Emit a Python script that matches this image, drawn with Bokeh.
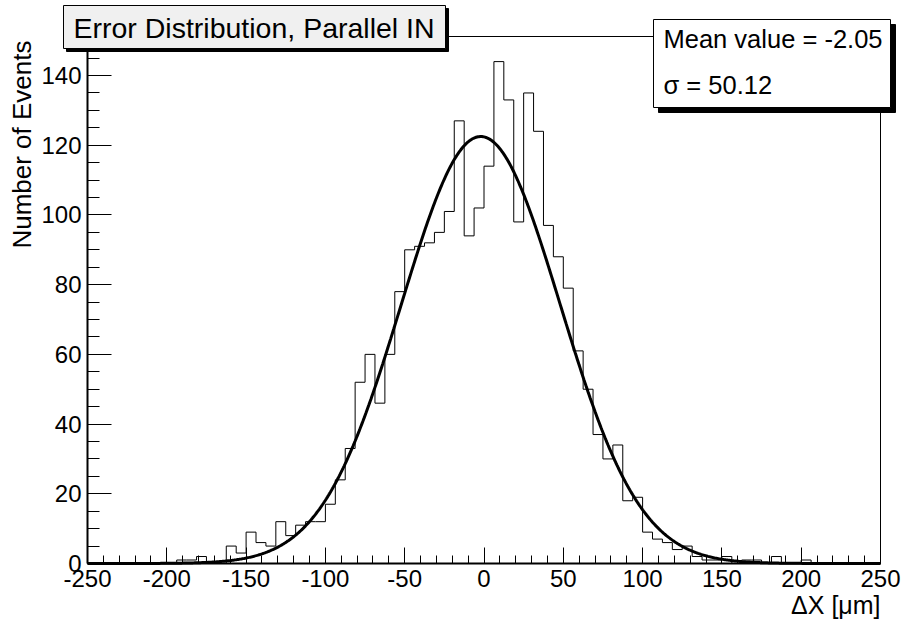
import numpy as np
from bokeh.plotting import figure
from bokeh.models import Range1d, FixedTicker, Label, BoxAnnotation
from bokeh.embed import file_html
from bokeh.resources import INLINE

# ---------------- data ----------------
X_MIN, X_MAX = -250.0, 250.0
BIN_WIDTH = 6.25
COUNTS = [0, 0, 0, 0, 0, 0, 0, 0, 0, 1,
          1, 2, 0, 0, 5, 3, 9, 6, 5, 12,
          8, 11, 12, 12, 17, 24, 33, 52, 60, 46,
          60, 78, 90, 91, 92, 95, 101, 127, 94, 102,
          114, 144, 133, 98, 135, 124, 97, 88, 79, 61,
          50, 37, 30, 34, 18, 19, 9, 7, 6, 4,
          5, 2, 1, 1, 2, 0, 1, 1, 0, 2,
          0, 0, 1, 0, 0, 0, 0, 0, 0, 0]
X_TICKS = [-250, -200, -150, -100, -50, 0, 50, 100, 150, 200, 250]
Y_TICKS = [0, 20, 40, 60, 80, 100, 120, 140]
Y_MAX = 151.2
# Gaussian fit parameters (mean and sigma as shown in the stats box)
FIT_MEAN = -2.05
FIT_SIGMA = 50.12
FIT_AMPLITUDE = 122.5

TITLE = "Error Distribution, Parallel IN"
STATS = ["Mean value = -2.05", "\u03c3 = 50.12"]
X_TITLE = "\u0394X [\u03bcm]"
Y_TITLE = "Number of Events"

FONT = "Liberation Sans"

# canvas size and where the histogram frame sits on it (pixels)
W, H = 903, 620
FL, FR, FT, FB = 87, 880, 36, 563
TEXT_SHIFT = 10  # compensates the renderer's baseline offset for labels


def xd(px):
    """canvas pixel column -> data x"""
    return X_MIN + (px - FL) * (X_MAX - X_MIN) / (FR - FL)


def yd(py):
    """canvas pixel row -> data y"""
    return (FB - py) * Y_MAX / (FB - FT)


# ---------------- figure ----------------
p = figure(width=W, height=H, output_backend="svg", toolbar_location=None,
           x_range=Range1d(xd(0), xd(W)), y_range=Range1d(yd(H), yd(0)),
           min_border=0, min_border_left=0, min_border_right=0,
           min_border_top=0, min_border_bottom=0)
p.xgrid.visible = False
p.ygrid.visible = False
p.outline_line_color = None
p.background_fill_color = "white"
p.border_fill_color = "white"

# frame top and right edges
p.segment(x0=[X_MIN, X_MAX], y0=[Y_MAX, 0], x1=[X_MAX, X_MAX], y1=[Y_MAX, Y_MAX],
          line_color="black", line_width=1)

# histogram outline
edges = X_MIN + BIN_WIDTH * np.arange(len(COUNTS) + 1)
p.step(edges, COUNTS + [0], mode="after", line_color="black", line_width=1)

# fit curve
fx = np.linspace(X_MIN, X_MAX, 801)
fy = FIT_AMPLITUDE * np.exp(-0.5 * ((fx - FIT_MEAN) / FIT_SIGMA) ** 2)
p.line(fx, fy, line_color="black", line_width=3)

# axes (drawn along the frame's left and bottom edges)
xminor = list(np.arange(X_TICKS[0], X_TICKS[-1] + 1, 10))
yminor = list(np.arange(Y_TICKS[0], Y_MAX, 5))
p.xaxis.ticker = FixedTicker(ticks=X_TICKS, minor_ticks=xminor)
p.yaxis.ticker = FixedTicker(ticks=Y_TICKS, minor_ticks=yminor)
p.xaxis.fixed_location = 0.0
p.yaxis.fixed_location = X_MIN
p.xaxis.bounds = (X_MIN, X_MAX)
p.yaxis.bounds = (0, Y_MAX)
p.xaxis.major_label_overrides = {t: str(t) for t in X_TICKS}
p.yaxis.major_label_overrides = {t: str(t) for t in Y_TICKS}
for ax, big in ((p.xaxis, 16), (p.yaxis, 24)):
    ax.major_tick_in = big
    ax.major_tick_out = 0
    ax.minor_tick_in = big // 2
    ax.minor_tick_out = 0
    ax.axis_line_width = 2
    ax.axis_line_color = "black"
    ax.major_tick_line_color = "black"
    ax.minor_tick_line_color = "black"
    ax.major_label_text_font = FONT
    ax.major_label_text_font_size = "24px"
    ax.major_label_text_color = "black"
    ax.major_label_standoff = 6


def box(x0, y0, x1, y1, fill):
    p.add_layout(BoxAnnotation(left=xd(x0), right=xd(x1), top=yd(y0), bottom=yd(y1),
                               fill_color=fill, fill_alpha=1.0,
                               line_color="black", line_alpha=1.0, line_width=1))


def label(X, Y, text, size, align="left", angle=0.0):
    p.add_layout(Label(x=xd(X), y=yd(Y), text=text, text_font=FONT,
                       text_font_size=size, text_color="black", text_align=align,
                       text_baseline="alphabetic", angle=angle))


# title box with shadow
box(66, 8, 448, 51, "black")
box(63, 5, 445, 48, "#f0f0f0")
label(73, 37 - TEXT_SHIFT, TITLE, "28.5px")

# stats box with shadow
box(658, 24, 895, 112, "black")
box(653, 19, 890, 107, "white")
label(663, 48 - TEXT_SHIFT, STATS[0], "25.5px")
label(663, 94 - TEXT_SHIFT, STATS[1], "25.5px")

# axis titles
label(FR, 614 - TEXT_SHIFT, X_TITLE, "25px", align="right")
label(31 - TEXT_SHIFT, 40, Y_TITLE, "26px", align="right", angle=np.pi / 2)

open("out.html", "w").write(file_html(p, INLINE))
